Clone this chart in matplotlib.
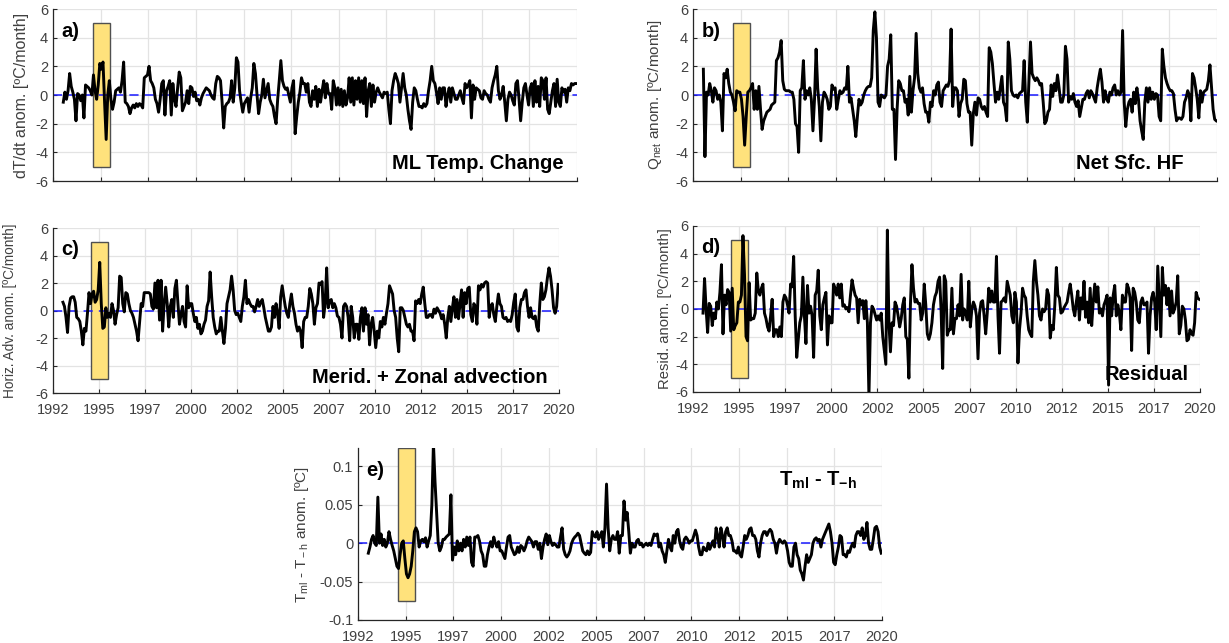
import numpy as np
import matplotlib
matplotlib.use("Agg")
import matplotlib.pyplot as plt
from matplotlib.patches import Rectangle
from matplotlib.ticker import FixedLocator

plt.rcParams["font.family"] = ["Liberation Sans", "DejaVu Sans"]
plt.rcParams["mathtext.fontset"] = "custom"
plt.rcParams["mathtext.rm"] = "Liberation Sans"
plt.rcParams["mathtext.it"] = "Liberation Sans:italic"
plt.rcParams["mathtext.bf"] = "Liberation Sans:bold"
plt.rcParams["axes.unicode_minus"] = False

# monthly anomalies, Jan 1993 - Dec 2019, one row per year
dtdt = [
    [-0.5, 0.2, -0.3, 0.3, 1.5, 0.6, 0.2, -0.3, -1.8, 0.1, 0.0, -0.4],
    [0.0, -1.6, 0.7, 0.6, 0.5, 0.3, 0.0, 1.4, 0.3, -0.3, 0.7, 2.2],
    [1.8, 2.3, -0.5, -3.1, 0.0, 1.0, -0.3, -1.0, -0.5, 0.3, 0.4, 0.5],
    [0.2, 1.0, 2.3, -0.5, -0.6, -0.8, -1.3, -0.9, -0.7, -0.9, -0.6, -0.8],
    [-0.6, -0.7, -0.9, 1.2, 1.3, 1.4, 2.0, 1.0, 0.8, 0.5, -0.3, -0.6],
    [-1.2, -0.3, 0.8, 1.0, -1.4, 0.3, 0.6, 1.0, -1.4, 0.8, -0.3, -0.8],
    [0.5, 1.6, 1.2, -1.1, -0.8, -0.5, 0.3, -0.6, 0.6, 0.5, -0.1, 0.2],
    [-0.4, -0.3, -0.7, -0.2, 0.1, 0.3, 0.5, 0.4, 0.3, 0.0, -0.2, -0.3],
    [0.8, 1.3, 1.2, 1.0, -0.5, -2.3, -0.8, -0.6, -0.5, -0.2, 1.0, -0.5],
    [0.5, 2.6, 2.3, 0.3, -0.5, -1.2, -0.6, -0.4, -0.2, -1.2, -0.2, 0.5],
    [2.2, 1.5, 0.0, -1.3, -0.5, 0.0, 1.1, -0.2, 0.3, 0.8, -0.3, -0.6],
    [-0.8, -1.5, -2.0, -0.3, 1.0, 2.4, 1.0, 0.6, 0.4, 0.5, 0.0, -0.5],
    [0.5, 1.0, -2.7, -1.5, -0.5, 0.2, 1.2, 0.8, 0.8, 0.2, 0.8, -0.5],
    [-0.8, 0.3, -0.3, 0.6, -0.8, 0.4, -0.5, 0.3, 1.0, -0.2, 0.8, 0.1],
    [0.1, -1.0, 1.0, 0.5, -0.7, 0.5, -0.7, 0.4, -0.8, 0.3, -0.7, -0.2],
    [1.2, -0.5, 1.2, -0.7, 1.0, -0.3, 1.2, -0.5, 1.0, -0.6, 1.2, -1.5],
    [0.3, 0.8, -0.8, 0.7, -0.5, 0.2, 0.5, 0.2, 0.0, -0.2, 0.2, 0.1],
    [0.2, -1.0, -2.0, 0.3, 1.0, 1.5, 1.2, 0.8, -0.5, 0.5, 1.5, 0.5],
    [0.0, -1.0, -1.8, -2.4, -0.5, 0.5, 0.3, -0.3, -0.8, -0.8, -0.9, -0.6],
    [-0.8, -0.6, 0.3, 1.0, 2.0, 1.0, 0.8, 0.2, -0.6, 0.5, -0.3, 0.5],
    [0.5, -0.8, 0.0, 0.5, -0.5, 0.5, 0.1, -0.3, -0.3, 0.0, 0.3, -0.2],
    [-0.6, 0.8, 0.5, 0.7, 1.0, -1.6, 0.7, -0.3, 0.5, 0.4, 0.3, -0.2],
    [-0.3, 0.3, 0.1, 0.0, -0.3, -0.5, 0.5, 1.0, 1.4, 2.0, 0.3, -0.3],
    [0.0, 0.6, -0.5, -1.8, -0.3, 0.2, 0.0, -0.4, -0.7, 0.8, 1.0, -0.3],
    [-1.8, -0.5, 0.5, 0.8, 0.0, -0.7, 0.5, 0.8, -0.8, 1.0, -0.5, 0.6],
    [-0.8, 1.2, 1.0, -0.3, 1.2, -1.0, -1.3, -0.5, 0.3, 0.8, -0.8, 1.1],
    [-0.5, -0.8, 0.5, 0.2, 0.4, -0.5, 0.5, 0.3, 0.8, 0.7, 0.8, 0.8],
]

qnet = [
    [1.8, -4.3, 0.2, 0.0, 0.8, 0.3, -0.5, 0.5, 0.3, -0.3, 0.0, -0.5],
    [-2.5, 1.5, 1.2, 1.8, 0.8, 0.2, 0.0, -0.5, -1.1, 0.3, 0.2, 0.2],
    [-0.3, -1.5, -3.5, -1.5, 0.2, 0.3, 0.5, 0.8, -1.0, 0.3, -1.0, 0.6],
    [-1.0, -2.4, -1.8, -1.5, -1.2, -1.1, -1.0, -0.7, -0.6, -0.5, 2.4, 2.6],
    [3.0, 3.8, 1.0, 0.4, 0.3, 0.3, 0.3, 0.2, 0.2, -0.3, -2.0, -2.2],
    [-4.0, 0.3, 0.5, 2.4, -0.3, 0.3, 0.0, 0.5, -0.3, -2.5, -0.3, 3.2],
    [0.5, -0.8, -3.2, -0.5, 0.2, 0.0, -0.3, -1.0, -0.8, 0.7, 0.4, 0.5],
    [-1.0, -0.3, 0.3, 0.1, 0.2, 0.5, 0.4, 2.0, -0.5, -0.2, -1.0, -1.8],
    [-2.9, -1.5, -0.3, -0.7, -0.5, 0.0, 0.3, 0.5, 0.6, 0.6, 1.2, 4.5],
    [5.8, 4.0, -0.5, -0.8, 0.0, -0.1, -0.2, 0.0, 2.0, 2.5, 4.2, -1.0],
    [-1.0, -4.5, -1.0, 1.0, 0.8, 0.3, 0.3, -0.5, -0.3, -1.4, 1.3, -1.2],
    [0.3, 1.2, 4.3, 1.5, 0.5, 0.2, 0.5, -0.6, -1.2, -1.2, -1.9, -0.5],
    [-0.8, 0.3, 0.0, 0.7, 0.9, -0.5, -0.8, 0.3, 0.5, 0.7, 0.6, 1.0],
    [4.6, -0.8, 0.5, 0.5, 0.3, -1.5, -0.6, -0.3, 1.1, 1.0, -0.6, -1.2],
    [-1.2, -3.5, -1.3, -0.5, -1.4, -0.2, -0.3, -0.8, -1.0, -0.8, -1.2, -1.5],
    [3.3, 3.0, 2.2, 0.8, -0.5, 0.2, -0.3, 0.5, 1.3, -0.5, -0.8, -1.8],
    [3.7, 2.5, 0.3, 0.0, -0.1, 0.0, -0.2, 0.1, 0.2, 0.3, 2.4, -0.5],
    [-1.9, 1.0, 3.7, 1.5, 1.2, 1.0, 1.2, 1.0, 0.7, 0.8, -0.5, -2.0],
    [-1.8, -1.2, -1.0, 0.7, -0.1, 0.8, 0.3, 1.4, 0.5, -0.5, -0.5, 0.0],
    [3.4, 2.5, -0.5, -0.1, -0.3, 0.1, -0.5, -0.8, -0.4, -1.5, -0.9, -0.3],
    [-0.3, 0.1, 0.3, -0.2, 0.3, 0.1, -0.2, -0.5, 0.5, 1.2, 1.8, 0.9],
    [-0.5, 0.3, -0.3, -0.5, 0.2, 0.0, 0.5, 0.7, 0.0, 0.3, 0.0, 0.2],
    [4.5, -0.5, -2.2, -1.0, -0.5, -0.3, -1.2, 0.2, -0.6, 0.5, -0.3, -1.8],
    [-2.5, -3.1, -0.5, 0.5, -0.5, 0.5, -0.3, 0.2, -0.3, 0.1, 0.0, -1.5],
    [-1.8, 3.2, 2.0, 1.2, 0.8, 0.5, 0.3, 0.3, 0.1, -1.0, -1.8, -1.6],
    [-1.6, -1.7, -1.5, -0.5, -0.2, 0.3, 0.0, -1.8, 1.5, 1.2, 0.5, -0.3],
    [-1.6, 0.3, -0.5, 0.2, 0.3, 0.4, 1.0, 2.1, 0.5, -1.0, -1.7, -1.8],
]

hadv = [
    [0.6, 0.3, -0.5, -1.6, 0.3, 0.9, 1.0, 1.0, 0.6, -0.5, -0.6, -0.8],
    [-1.5, -2.5, -1.3, -1.5, -0.2, 1.3, 0.5, 1.2, 1.4, 0.6, 0.8, 1.5],
    [3.5, 0.5, -1.3, -1.2, 0.2, -0.5, -0.2, -0.5, 0.5, 0.0, -1.0, -0.3],
    [0.2, 2.5, 2.4, 0.5, -0.1, 1.3, 1.2, 0.5, 0.0, -0.2, -0.5, -1.0],
    [-1.5, -2.2, -0.8, 0.5, 0.3, 1.3, 1.3, 1.3, 1.3, 1.2, 0.3, 0.1],
    [2.0, 0.2, 2.2, -0.7, 2.2, -1.5, 0.5, 1.7, 0.5, -1.2, 0.3, 0.8],
    [-0.5, 1.6, 2.2, 0.5, -1.0, -0.3, 0.3, -0.8, -1.2, 1.8, 0.2, 0.5],
    [0.5, -0.2, -0.8, -0.5, -1.3, -1.0, -1.7, -1.5, -1.0, -0.7, 0.3, 0.7],
    [2.8, 1.0, -0.5, -1.2, -1.7, -1.5, -1.5, -0.5, -1.5, -2.4, -1.3, 0.5],
    [1.0, 1.5, 2.5, 1.5, 0.0, -0.3, -0.2, -0.5, -0.8, 0.3, 1.0, 2.2],
    [0.5, 0.8, 0.5, 0.3, 0.3, -0.1, 0.3, 0.8, 0.3, 0.6, 0.8, 0.2],
    [-0.5, -1.0, -1.5, -1.5, -1.2, 0.3, -0.5, 0.5, -0.2, -1.3, 1.0, 1.8],
    [1.0, 0.3, -0.2, -0.5, 0.5, 1.2, 0.3, -0.2, -1.0, -1.5, -1.2, -1.5],
    [-2.7, -0.8, -0.5, -0.5, 0.3, 1.6, 1.2, 0.5, -1.0, 0.2, 0.5, 2.0],
    [1.9, 2.1, -0.5, 0.5, 3.1, 0.2, 0.7, 0.8, 0.2, 0.5, 0.2, -0.4],
    [-0.5, -1.0, -2.0, 0.3, 0.5, 0.3, -0.5, -2.2, 0.3, -0.5, -2.0, -1.0],
    [-1.0, -2.1, -0.5, 0.2, -1.5, 0.2, -1.0, -0.3, -2.5, -1.0, -0.5, -1.5],
    [-2.7, -1.5, -2.0, -0.8, -1.2, -0.5, -1.0, -0.2, 0.5, 1.8, 1.5, 1.2],
    [0.0, -0.5, -2.0, -3.0, 0.2, 0.2, 0.0, -0.5, -1.0, -1.2, -1.0, -1.5],
    [-1.5, -2.2, 0.7, 0.5, 0.8, 0.5, 1.2, 1.7, 0.5, -0.5, -0.5, -0.3],
    [-0.3, -0.5, 0.1, -0.2, 0.2, 0.0, -0.2, -0.6, -0.3, -1.0, -2.0, -0.5],
    [0.3, -0.8, 0.2, 1.0, -0.5, 0.8, -0.6, 0.5, 1.5, -0.5, 1.3, 0.5],
    [1.6, 1.7, -0.3, -0.8, 0.5, 0.3, -1.0, 1.8, 1.5, 1.9, 1.7, 2.0],
    [2.1, 2.0, -0.5, 0.3, 0.5, -0.3, -0.8, 0.3, 1.2, 0.5, 0.3, -0.5],
    [-0.6, -0.5, -0.8, -0.7, -0.8, -0.3, 0.6, 1.2, -1.2, -1.5, 0.2, 0.8],
    [0.8, 1.3, 1.5, 0.3, -0.5, 0.2, -0.5, -0.6, -0.4, -1.2, -1.5, 0.5],
    [2.0, 0.8, 1.0, 1.5, 2.4, 3.1, 2.5, 1.5, 0.2, -0.2, 0.3, 1.9],
]

resid = [
    [-0.3, 2.2, 0.0, -1.7, 0.4, 0.2, -1.2, -0.3, -0.7, 0.5, 0.0, 1.2],
    [3.2, -1.8, 1.0, 0.3, 1.4, 1.2, -1.6, 1.5, -1.5, -1.2, -1.0, 0.5],
    [0.5, 1.0, 5.3, 2.5, -2.0, -2.3, 1.9, -0.8, -0.7, -0.7, -0.3, 2.6],
    [1.3, 1.0, 1.5, 1.8, -0.3, -0.7, -1.3, -1.6, -0.5, 0.7, -2.0, -1.5],
    [-1.5, -2.0, -1.3, -2.0, 0.5, 1.0, 0.8, 0.3, -0.3, 1.8, 1.6, 3.8],
    [-0.5, -3.5, -2.2, -1.0, -0.5, 2.3, -0.5, -2.5, 1.7, -0.3, 0.2, -0.5],
    [-3.5, 1.0, 1.3, 2.8, -0.5, -1.5, 0.3, 0.8, 1.2, -2.6, -0.5, -1.0],
    [-1.0, 1.8, 1.5, 1.0, 1.8, 0.8, 1.8, 0.2, 0.3, 0.0, 0.1, -0.2],
    [1.0, 2.1, 1.5, 1.0, 0.8, -1.0, 0.7, 0.3, 0.6, -0.7, 0.6, -1.0],
    [-6.3, -1.0, 0.2, 0.0, -0.4, -0.8, -0.5, -0.8, -0.3, -2.0, -3.0, -4.0],
    [5.7, -1.0, -3.1, -1.0, -1.2, 0.5, 0.2, -0.5, -1.3, -0.7, 0.3, 0.8],
    [-2.0, -2.2, -5.0, 0.3, 3.2, 1.5, 0.5, 0.7, 0.4, 0.4, -0.8, -0.3],
    [1.8, 0.3, -1.8, -2.2, -1.8, -1.0, 0.3, 0.9, 1.2, 2.0, 2.3, -0.2],
    [-4.3, 2.4, 2.0, -1.9, -1.5, -1.5, 1.5, -1.8, -0.7, -0.7, 0.3, -0.5],
    [2.5, -0.8, 0.0, -0.3, -0.8, 2.0, -1.3, 0.0, 0.5, 0.2, -0.5, -3.6],
    [-0.3, 0.5, 0.6, -0.5, -1.8, -0.3, 1.5, 0.5, 1.3, 0.5, 0.5, 3.8],
    [-0.5, -3.2, 0.5, 0.6, 0.8, 0.5, 2.0, 1.5, 1.0, -0.5, -1.0, 1.2],
    [0.5, -3.9, -1.5, -0.3, 1.5, 1.0, 0.8, -0.5, -1.5, -1.8, -2.0, 2.0],
    [3.5, 2.0, 1.0, -0.5, -0.8, 0.0, -0.2, 0.0, 1.4, 1.0, -2.1, -1.2],
    [-1.5, 0.3, 3.0, 1.0, 0.8, -0.3, -0.2, 0.1, 0.3, 0.5, 1.2, 1.8],
    [1.0, 0.0, -0.5, 0.5, 1.3, -0.8, 0.8, 0.0, 2.0, -0.6, 0.5, -1.0],
    [1.5, -1.2, 0.5, 1.8, 0.5, 1.6, -0.3, 0.0, -0.5, 0.3, 0.6, 1.0],
    [-5.5, 0.8, -0.5, 1.0, 1.7, -0.5, 0.3, -0.3, -1.5, 1.0, 0.5, 0.5],
    [1.8, 1.5, 0.8, -3.0, 1.5, 1.2, 0.5, -0.8, -1.0, 0.5, 0.8, 0.3],
    [0.3, 0.5, -3.2, -0.5, 0.8, 1.2, 0.5, -1.5, 3.1, 0.5, -2.0, 3.0],
    [1.0, 1.7, 0.3, 1.5, -0.5, 1.3, -0.3, 0.0, 0.5, 2.4, -1.8, -1.2],
    [0.2, 0.0, -0.8, -2.3, -2.2, -1.5, -1.8, -1.9, -1.0, 1.2, 0.8, 0.7],
]

tdiff = [
    [-0.013, -0.005, 0.005, 0.010, 0.0, -0.003, 0.060, 0.0, 0.012, -0.003, 0.005, -0.005],
    [0.0, 0.015, 0.005, -0.003, -0.010, -0.020, -0.030, -0.033, -0.015, 0.0, 0.003, -0.020],
    [-0.040, -0.045, -0.040, -0.030, -0.010, 0.015, 0.020, 0.015, -0.005, 0.003, 0.005, 0.002],
    [0.007, -0.005, 0.003, 0.010, 0.050, 0.130, 0.080, 0.040, 0.0, -0.010, -0.005, 0.005],
    [0.005, 0.008, 0.010, 0.012, 0.063, -0.022, -0.005, -0.015, 0.003, -0.010, 0.0, -0.010],
    [0.005, -0.005, 0.008, -0.003, 0.008, -0.025, -0.030, 0.008, 0.008, 0.010, 0.003, -0.010],
    [-0.015, -0.030, -0.030, -0.015, -0.005, 0.002, -0.005, 0.008, 0.0, -0.005, 0.002, -0.010],
    [-0.010, -0.015, -0.020, -0.005, 0.008, 0.010, -0.005, -0.010, -0.015, -0.013, -0.005, -0.012],
    [-0.003, -0.005, -0.010, -0.005, 0.003, 0.008, 0.005, 0.002, -0.005, 0.002, 0.002, -0.008],
    [0.0, -0.020, -0.005, 0.005, 0.012, -0.002, 0.010, 0.002, -0.003, 0.0, -0.002, -0.005],
    [-0.005, 0.008, 0.020, -0.008, -0.015, -0.018, -0.015, -0.010, 0.0, 0.005, 0.008, 0.010],
    [0.013, 0.010, 0.0, -0.010, -0.013, -0.015, -0.010, -0.015, -0.012, 0.015, 0.010, 0.008],
    [0.015, 0.005, 0.010, 0.015, -0.005, 0.020, 0.077, 0.020, -0.010, 0.005, 0.010, 0.005],
    [0.005, 0.015, -0.013, 0.010, 0.010, 0.055, 0.030, 0.040, 0.015, -0.013, 0.0, -0.005],
    [-0.005, 0.003, 0.005, -0.002, 0.0, -0.005, -0.002, 0.0, -0.003, 0.0, -0.003, 0.005],
    [0.012, 0.010, 0.012, -0.005, 0.0, -0.010, -0.015, -0.025, -0.010, 0.005, -0.005, -0.010],
    [0.010, 0.0, 0.015, 0.018, 0.003, -0.005, -0.008, 0.005, 0.008, 0.005, 0.0, 0.003],
    [0.003, 0.010, 0.017, 0.010, -0.005, -0.015, -0.015, -0.005, -0.008, -0.010, 0.0, -0.008],
    [-0.003, 0.003, -0.005, 0.020, 0.010, -0.005, 0.020, 0.010, -0.005, 0.015, 0.020, 0.010],
    [0.010, 0.003, -0.010, -0.010, -0.013, -0.005, -0.015, -0.018, -0.005, 0.010, 0.005, 0.010],
    [0.018, 0.020, 0.010, 0.010, 0.005, -0.010, -0.018, 0.0, 0.010, 0.015, 0.015, 0.010],
    [0.015, 0.018, 0.015, 0.005, 0.0, -0.013, 0.0, 0.005, 0.002, 0.0, 0.003, 0.0],
    [-0.010, -0.025, -0.030, -0.030, -0.005, 0.0, -0.015, -0.020, -0.035, -0.040, -0.048, -0.030],
    [-0.015, -0.025, -0.020, -0.015, 0.0, 0.005, 0.007, 0.003, 0.005, -0.005, 0.005, 0.010],
    [0.015, 0.020, 0.025, 0.015, 0.0, -0.025, -0.028, -0.015, -0.005, 0.010, 0.008, -0.015],
    [-0.015, -0.018, -0.010, -0.012, -0.005, 0.0, -0.005, 0.010, 0.015, 0.015, 0.010, 0.020],
    [0.005, 0.010, 0.027, 0.0, -0.008, -0.008, 0.005, 0.020, 0.022, 0.015, -0.005, -0.013],
]

start_year = 1993
event = (1994.58, 1995.5)          # highlighted period
xticks = np.arange(1992.5, 2020.01, 2.5)
xtick_labels = [str(int(v)) for v in xticks]
ticks6 = [-6, -4, -2, 0, 2, 4, 6]
ticks_e = [-0.1, -0.05, 0, 0.05, 0.1]
labels_e = ["-0.1", "-0.05", "0", "0.05", "0.1"]

ink = "#262626"
fig = plt.figure(figsize=(12.29, 6.43), dpi=100)


def panel(rect, rows, ylim, yticks, ylabel, ylabel_size, label_x, tag, title, title_xy,
          box_y, show_xlabels=True, yticklabels=None):
    vals = np.ravel(np.array(rows, dtype=float))
    t = start_year + (np.arange(vals.size) + 0.5) / 12.0
    ax = fig.add_axes(rect)
    ax.add_patch(Rectangle((event[0], box_y[0]), event[1] - event[0], box_y[1] - box_y[0],
                           facecolor="#ffe27c", edgecolor="#505050", lw=1.0, zorder=1))
    ax.axhline(0, color="#1a1aff", lw=1.1, dashes=(6, 4), zorder=2)
    ax.plot(t, vals, color="black", lw=2.1, zorder=3)
    ax.set_xlim(1992.5, 2020.0)
    ax.set_ylim(*ylim)
    ax.xaxis.set_major_locator(FixedLocator(xticks))
    ax.set_yticks(yticks)
    if yticklabels is not None:
        ax.set_yticklabels(yticklabels)
    ax.set_xticklabels(xtick_labels if show_xlabels else [])
    ax.grid(True, color="#e3e3e3", lw=0.9)
    ax.set_axisbelow(True)
    for s in ("top", "right"):
        ax.spines[s].set_visible(False)
    for s in ("left", "bottom"):
        ax.spines[s].set_color(ink)
        ax.spines[s].set_linewidth(0.9)
    ax.tick_params(direction="in", length=3, width=0.8, colors=ink, labelsize=10.5,
                   labelcolor="#404040")
    ax.tick_params(axis="x", pad=7)
    ax.set_ylabel(ylabel, fontsize=ylabel_size, color="#404040")
    ax.yaxis.set_label_coords(label_x, 0.5)
    ax.text(0.016, 0.87, tag, transform=ax.transAxes, fontsize=14.5, fontweight="bold",
            ha="left", va="center", color="black")
    ax.text(title_xy[0], title_xy[1], title, transform=ax.transAxes, fontsize=14.5,
            fontweight="bold", ha="right", va="baseline", color="black")
    return ax


panel([0.0431, 0.7185, 0.4264, 0.2675], dtdt, (-6, 6), ticks6,
      "dT/dt anom. [ºC/month]", 11.5, -0.046, "a)", "ML Temp. Change", (0.975, 0.07),
      (-5, 5), show_xlabels=False)
panel([0.5639, 0.7185, 0.4264, 0.2675], qnet, (-6, 6), ticks6,
      r"Q$_{\rm net}$ anom. [ºC/month]", 11, -0.055, "b)", "Net Sfc. HF", (0.935, 0.07),
      (-5, 5), show_xlabels=False)
panel([0.0431, 0.3888, 0.4117, 0.2566], hadv, (-6, 6), ticks6,
      "Horiz. Adv. anom. [ºC/month]", 9.8, -0.072, "c)", "Merid. + Zonal advection",
      (0.978, 0.06), (-5, 5))
panel([0.5639, 0.3904, 0.4125, 0.2582], resid, (-6, 6), ticks6,
      "Resid. anom. [ºC/month]", 10.6, -0.042, "d)", "Residual", (0.978, 0.072),
      (-5, 5))
panel([0.2913, 0.0358, 0.4264, 0.2675], tdiff, (-0.1, 0.124), ticks_e,
      r"T$_{\rm ml}$ - T$_{\rm -h}$ anom. [ºC]", 11, -0.09, "e)",
      r"$\mathbf{T_{ml}}$ - $\mathbf{T_{-h}}$", (0.952, 0.78), (-0.075, 0.124),
      yticklabels=labels_e)

fig.savefig("out.png", dpi=100)
